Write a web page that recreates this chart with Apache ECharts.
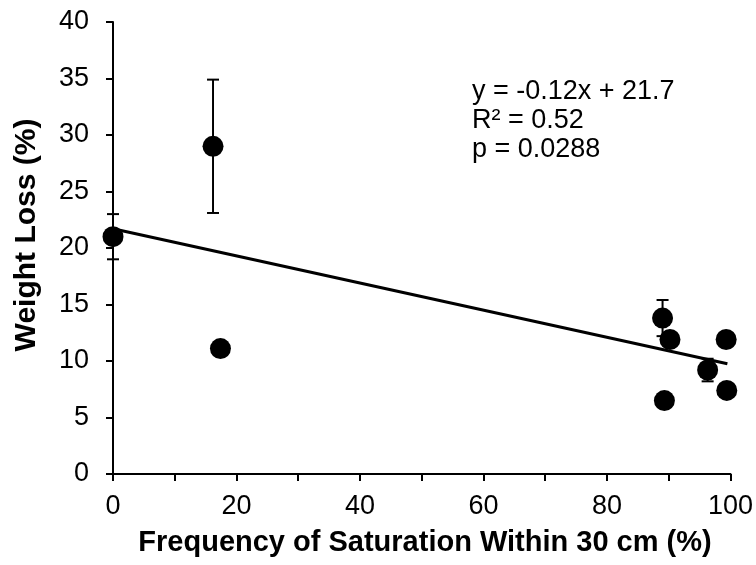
<!DOCTYPE html>
<html>
<head>
<meta charset="utf-8">
<script src="https://cdn.jsdelivr.net/npm/echarts@6/dist/echarts.min.js"></script>
<style>
html,body{margin:0;padding:0;background:#fff;}
#c{width:756px;height:565px;}
</style>
</head>
<body>
<div id="c"></div>
<script>
// ---- data ----
const xValues = [0, 16.2, 17.4, 89.0, 90.2, 96.3, 99.3, 99.4, 89.3];
const yValues = [21.0, 29.0, 11.1, 13.8, 11.9, 9.2, 11.9, 7.4, 6.5];
const yErrors = [2.0, 5.9, 0, 1.6, 0, 1.0, 0, 0, 0];
const trendSlope = -0.12;
const trendIntercept = 21.7;
const trendRange = [0, 99.5];
const xTicks = [0, 20, 40, 60, 80, 100];
const yTicks = [0, 5, 10, 15, 20, 25, 30, 35, 40];
const annotationLines = ['y = -0.12x + 21.7', 'R\u00B2 = 0.52', 'p = 0.0288'];
const xTitle = 'Frequency of Saturation Within 30 cm (%)';
const yTitle = 'Weight Loss (%)';

const FONT = 'Arial, "Liberation Sans", sans-serif';
const points = xValues.map((x, i) => [x, yValues[i], yErrors[i]]);
const trend = trendRange.map(x => [x, trendIntercept + trendSlope * x]);

const chart = echarts.init(document.getElementById('c'), null, {renderer: 'canvas'});
chart.setOption({
  animation: false,
  backgroundColor: '#fff',
  grid: {left: 113, right: 25, top: 22, bottom: 91, containLabel: false},
  xAxis: {
    type: 'value', min: 0, max: 100, interval: 10,
    axisLine: {show: true, onZero: false, lineStyle: {color: '#000', width: 2}},
    axisTick: {show: true, inside: false, length: 7, lineStyle: {color: '#000', width: 2}},
    axisLabel: {
      color: '#000', fontSize: 27, fontFamily: FONT, margin: 19,
      formatter: v => xTicks.indexOf(v) >= 0 ? String(v) : ''
    },
    splitLine: {show: false}
  },
  yAxis: {
    type: 'value', min: 0, max: 40, interval: 5,
    axisLine: {show: true, onZero: false, lineStyle: {color: '#000', width: 2}},
    axisTick: {show: true, inside: false, length: 7, lineStyle: {color: '#000', width: 2}},
    axisLabel: {
      color: '#000', fontSize: 27, fontFamily: FONT, margin: 24,
      formatter: v => yTicks.indexOf(v) >= 0 ? String(v) : ''
    },
    splitLine: {show: false}
  },
  graphic: [
    {type: 'text', x: 425, y: 543,
      style: {text: xTitle, fill: '#000', font: 'bold 29px ' + FONT, align: 'center', verticalAlign: 'middle'}},
    {type: 'text', rotation: Math.PI / 2, x: 27, y: 235,
      style: {text: yTitle, fill: '#000', font: 'bold 30px ' + FONT, align: 'center', verticalAlign: 'middle'}},
    {type: 'text', x: 472, y: 92,
      style: {text: annotationLines[0], fill: '#000', font: '27px ' + FONT, verticalAlign: 'middle'}},
    {type: 'text', x: 472, y: 121,
      style: {text: annotationLines[1], fill: '#000', font: '27px ' + FONT, verticalAlign: 'middle'}},
    {type: 'text', x: 472, y: 150,
      style: {text: annotationLines[2], fill: '#000', font: '27px ' + FONT, verticalAlign: 'middle'}}
  ],
  series: [
    {
      type: 'custom',
      data: points,
      z: 3,
      renderItem: function (params, api) {
        const x = api.value(0), y = api.value(1), e = api.value(2);
        if (!e) return null;
        const top = api.coord([x, y + e]);
        const bot = api.coord([x, y - e]);
        const hw = 6;
        const st = {stroke: '#000', lineWidth: 2};
        return {
          type: 'group',
          children: [
            {type: 'line', shape: {x1: top[0], y1: top[1], x2: bot[0], y2: bot[1]}, style: st},
            {type: 'line', shape: {x1: top[0] - hw, y1: top[1], x2: top[0] + hw, y2: top[1]}, style: st},
            {type: 'line', shape: {x1: bot[0] - hw, y1: bot[1], x2: bot[0] + hw, y2: bot[1]}, style: st}
          ]
        };
      }
    },
    {
      type: 'scatter',
      data: points.map(p => [p[0], p[1]]),
      symbol: 'circle', symbolSize: 21,
      itemStyle: {color: '#000', opacity: 1},
      clip: false,
      z: 4
    },
    {
      type: 'line',
      data: trend,
      symbol: 'none',
      lineStyle: {color: '#000', width: 3},
      z: 5
    }
  ]
});
</script>
</body>
</html>
